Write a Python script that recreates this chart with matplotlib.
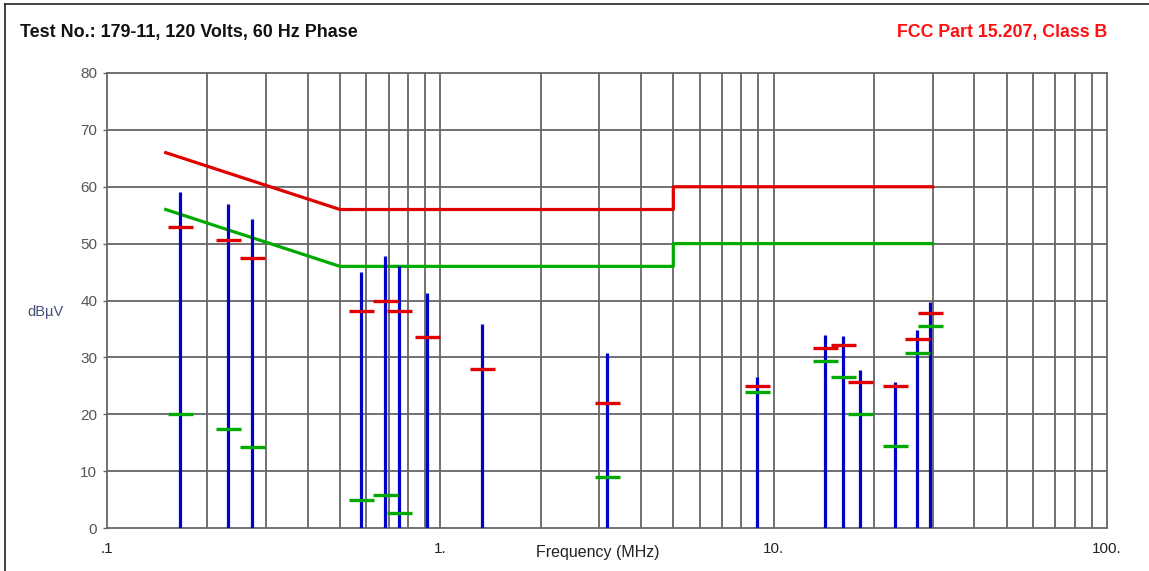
import matplotlib
matplotlib.use("Agg")
import matplotlib.pyplot as plt
import numpy as np
from matplotlib.lines import Line2D

plt.rcParams['font.family'] = ['Liberation Sans', 'DejaVu Sans']

# emissions (MHz / dBuV)
freq = [0.166, 0.230, 0.272, 0.577, 0.682, 0.750, 0.914, 1.334, 3.16,
        8.93, 14.26, 16.15, 18.13, 23.08, 26.9, 29.4]
peak = [59.1, 57.0, 54.3, 45.0, 47.9, 46.0, 41.3, 35.9, 30.7,
        26.5, 34.0, 33.8, 27.7, 25.7, 34.8, 39.8]
quasi_peak = [53.0, 50.6, 47.5, 38.2, 40.0, 38.2, 33.5, 28.0, 21.9,
              25.0, 31.7, 32.2, 25.6, 25.0, 33.3, 37.8]
average = [20.0, 17.4, 14.2, 5.0, 5.8, 2.6, np.nan, np.nan, 9.0,
           24.0, 29.4, 26.6, 20.0, 14.4, 30.7, 35.5]

# FCC 15.207 class B limits
limit_f = [0.15, 0.5, 5.0, 5.0, 30.0]
qp_limit = [66, 56, 56, 60, 60]
avg_limit = [56, 46, 46, 50, 50]

RED = '#e00000'
GREEN = '#00aa00'
BLUE = '#0000c8'
GRID = '#666666'

fig = plt.figure(figsize=(11.49, 5.71), dpi=100)
ax = fig.add_axes([107/1149, 1-528/571, 1000/1149, 455/571])

ax.set_xscale('log')
ax.set_xlim(0.1, 100)
ax.set_ylim(0, 80)

# grid
minor = [m * 10.0**d for d in (-1, 0, 1) for m in range(1, 10)][1:]
for xv in minor:
    ax.axvline(xv, color=GRID, lw=1.3, zorder=1)
for yv in range(10, 80, 10):
    ax.axhline(yv, color=GRID, lw=1.3, zorder=1)

ax.plot(limit_f, qp_limit, color=RED, lw=2.3, zorder=3)
ax.plot(limit_f, avg_limit, color=GREEN, lw=2.3, zorder=3)

ax.vlines(freq, 0, peak, color=BLUE, lw=2.3, zorder=4)
ax.plot(freq, quasi_peak, '_', color=RED, ms=18, mew=2.4, zorder=5)
ax.plot(freq, average, '_', color=GREEN, ms=18, mew=2.4, zorder=5)

for sp in ax.spines.values():
    sp.set_color(GRID)
    sp.set_linewidth(1.3)

ax.set_xticks([0.1, 1, 10, 100])
ax.set_xticklabels(['.1', '1.', '10.', '100.'])
ax.xaxis.set_minor_locator(matplotlib.ticker.NullLocator())
ax.tick_params(axis='x', length=0, pad=10, labelsize=11, labelcolor='#222222')
ax.set_yticks(range(0, 81, 10))
ax.tick_params(axis='y', length=3, width=1, color=GRID, pad=4,
               labelsize=11, labelcolor='#555555')

fig.text(598/1149, 1-552/571, 'Frequency (MHz)', ha='center', va='center',
         fontsize=11.5, color='#222222')
fig.text(45/1149, 1-312/571, 'dBµV', ha='center', va='center',
         fontsize=10.5, color='#44507a')
fig.text(20/1149, 1-33/571, 'Test No.: 179-11, 120 Volts, 60 Hz Phase',
         ha='left', va='center', fontsize=12.9, fontweight='bold', color='#111111')
fig.text(1107/1149, 1-33/571, 'FCC Part 15.207, Class B',
         ha='right', va='center', fontsize=12.8, fontweight='bold', color='#ff1010')

# panel frame of the screenshot
fig.add_artist(Line2D([5/1149, 1], [1-4/571, 1-4/571], color='#222222', lw=1.2))
fig.add_artist(Line2D([5/1149, 5/1149], [0, 1-4/571], color='#222222', lw=1.2))

fig.savefig('out.png', dpi=100)
